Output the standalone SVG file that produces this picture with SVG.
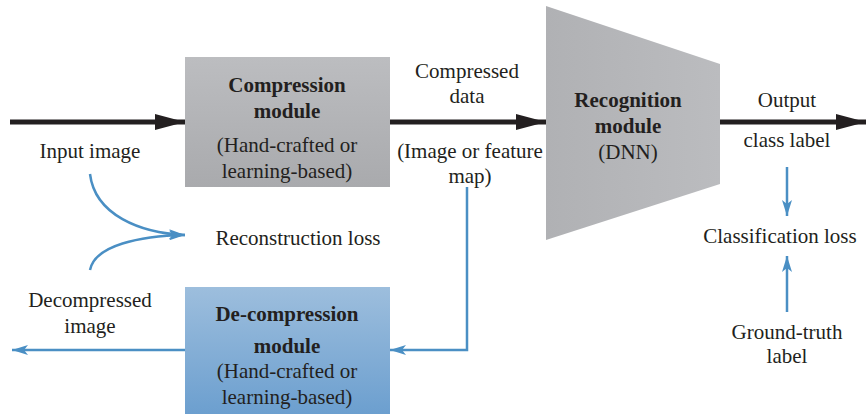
<svg xmlns="http://www.w3.org/2000/svg" width="866" height="414" viewBox="0 0 866 414" font-family="Liberation Serif" font-size="21">
<defs>
<linearGradient id="gGray" x1="0" y1="0" x2="0" y2="1"><stop offset="0" stop-color="#bcbdc0"/><stop offset="1" stop-color="#a9aaad"/></linearGradient>
<linearGradient id="gBlue" x1="0" y1="0" x2="0" y2="1"><stop offset="0" stop-color="#9dbedd"/><stop offset="1" stop-color="#6c9fcf"/></linearGradient>
<linearGradient id="gTrap" x1="0" y1="0" x2="1" y2="0"><stop offset="0" stop-color="#b0b1b4"/><stop offset="1" stop-color="#bbbcbf"/></linearGradient>
<marker id="blk" viewBox="0 0 30 16" refX="30" refY="8" markerWidth="30" markerHeight="16" markerUnits="userSpaceOnUse" orient="auto"><path d="M0,0 L30,8 L0,16 Z" fill="#231f20"/></marker>
<marker id="blu" viewBox="0 0 16 10" refX="16" refY="5" markerWidth="16" markerHeight="10" markerUnits="userSpaceOnUse" orient="auto"><path d="M0,0 L16,5 L0,10 L4,5 Z" fill="#4a8fc4"/></marker>
</defs>
<style>
text{fill:#231f20;text-anchor:middle}
.b{font-weight:bold}
.bk{stroke:#231f20;stroke-width:5;fill:none}
.bl{stroke:#4a8fc4;stroke-width:2.5;fill:none}
</style>
<g id="connectors">
<line class="bk" x1="10" y1="122" x2="185" y2="122" marker-end="url(#blk)"/>
<line class="bk" x1="390" y1="122" x2="546" y2="122" marker-end="url(#blk)"/>
<line class="bk" x1="720" y1="122" x2="866" y2="122" marker-end="url(#blk)"/>
<path class="bl" d="M90,174 C95,215 140,233 185,235" marker-end="url(#blu)"/>
<path class="bl" d="M90,270 C95,245 140,236 185,235" marker-end="url(#blu)"/>
<path class="bl" d="M467,187 V350 H390" marker-end="url(#blu)"/>
<line class="bl" x1="185" y1="350" x2="12" y2="350" marker-end="url(#blu)"/>
<line class="bl" x1="787" y1="167" x2="787" y2="216" marker-end="url(#blu)"/>
<line class="bl" x1="787" y1="312" x2="787" y2="256" marker-end="url(#blu)"/>
</g>
<g id="compression">
<rect x="185" y="57" width="205" height="130" fill="url(#gGray)"/>
<text x="287" y="92" class="b">Compression</text>
<text x="287" y="118" class="b">module</text>
<text x="287" y="152">(Hand-crafted or</text>
<text x="287" y="178">learning-based)</text>
</g>
<g id="recognition">
<polygon points="546,6 720,64 720,184 546,240" fill="url(#gTrap)"/>
<text x="628" y="107" class="b">Recognition</text>
<text x="628" y="133" class="b">module</text>
<text x="628" y="159">(DNN)</text>
</g>
<g id="decompression">
<rect x="185" y="287" width="205" height="127" fill="url(#gBlue)"/>
<text x="287" y="321" class="b">De-compression</text>
<text x="287" y="353" class="b">module</text>
<text x="287" y="378">(Hand-crafted or</text>
<text x="287" y="404">learning-based)</text>
</g>
<g id="labels">
<text x="90" y="158">Input image</text>
<text x="467" y="78">Compressed</text>
<text x="467" y="103">data</text>
<text x="470" y="158">(Image or feature</text>
<text x="470" y="183">map)</text>
<text x="787" y="107">Output</text>
<text x="787" y="147">class label</text>
<text x="780" y="243">Classification loss</text>
<text x="787" y="339">Ground-truth</text>
<text x="787" y="363">label</text>
<text x="298" y="245">Reconstruction loss</text>
<text x="90" y="307">Decompressed</text>
<text x="90" y="333">image</text>
</g>
</svg>
